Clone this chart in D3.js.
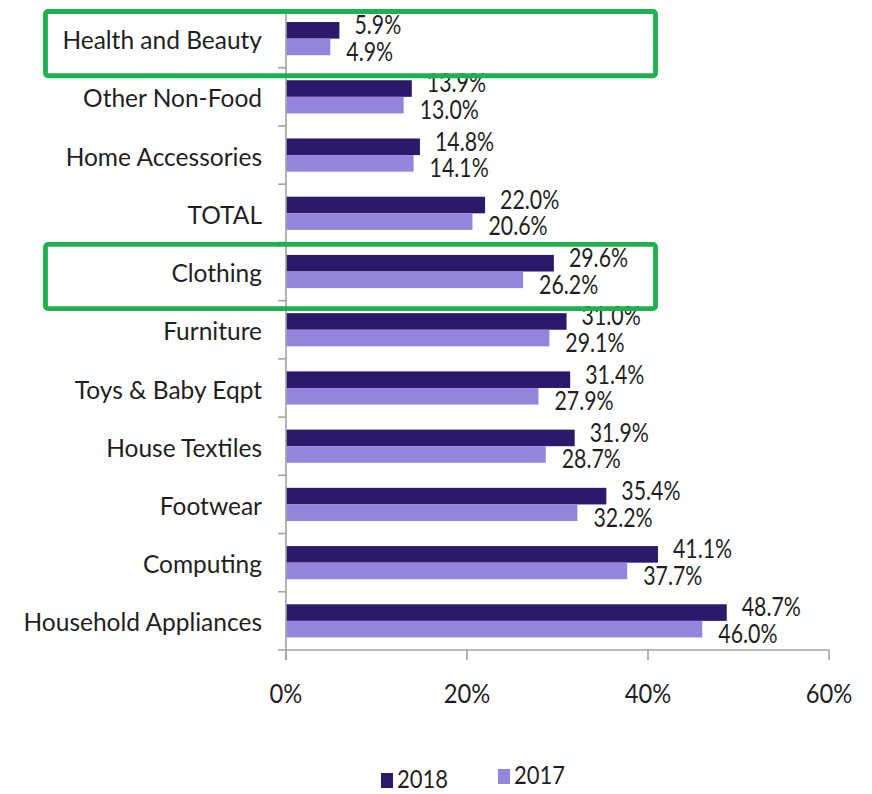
<!DOCTYPE html>
<html>
<head>
<meta charset="utf-8">
<script src="https://cdn.jsdelivr.net/npm/d3@7"></script>
<style>
  html, body { margin: 0; padding: 0; background: #fff; }
  svg { display: block; }
  text { font-family: Lato, "Open Sans", sans-serif; fill: #1f1f1f; }
</style>
</head>
<body>
<svg id="chart" width="872" height="794"></svg>
<script>
// Categories, top to bottom
const categories = [
  "Health and Beauty", "Other Non-Food", "Home Accessories", "TOTAL", "Clothing",
  "Furniture", "Toys & Baby Eqpt", "House Textiles", "Footwear", "Computing",
  "Household Appliances"
];
const values2018 = [5.9, 13.9, 14.8, 22.0, 29.6, 31.0, 31.4, 31.9, 35.4, 41.1, 48.7];
const values2017 = [4.9, 13.0, 14.1, 20.6, 26.2, 29.1, 27.9, 28.7, 32.2, 37.7, 46.0];
const seriesNames = ["2018", "2017"];
const xTicks = [0, 20, 40, 60];
const highlighted = ["Health and Beauty", "Clothing"];

const colors = { "2018": "#2b1a6b", "2017": "#9584dc" };
const axisColor = "#a3a3a3";
const green = "#1fb04e";

const svg = d3.select("#chart");

const x = d3.scaleLinear().domain([0, 60]).range([286, 829]);
const y = d3.scaleBand().domain(categories).range([9.5, 650]).padding(0);
const barH = y.bandwidth() * 0.285;

// Places a text label, optionally squeezed horizontally
function label(g, str, px, py, size, anchor, sx) {
  return g.append("text")
    .attr("transform", `translate(${px},${py}) scale(${sx || 1},1)`)
    .attr("text-anchor", anchor || "start")
    .attr("dominant-baseline", "central")
    .style("font-size", size + "px")
    .text(str);
}

// Bars
const rows = categories.map((c, i) => ({ c, v18: values2018[i], v17: values2017[i] }));
const mid = c => y(c) + y.bandwidth() / 2;

svg.append("g").selectAll("rect.b18").data(rows).join("rect")
  .attr("x", x(0)).attr("y", d => mid(d.c) - barH)
  .attr("width", d => x(d.v18) - x(0)).attr("height", barH)
  .attr("fill", colors["2018"]);

svg.append("g").selectAll("rect.b17").data(rows).join("rect")
  .attr("x", x(0)).attr("y", d => mid(d.c))
  .attr("width", d => x(d.v17) - x(0)).attr("height", barH)
  .attr("fill", colors["2017"]);

// Axes
const xAxisG = svg.append("g").attr("transform", `translate(0,${650})`);
xAxisG.append("line").attr("x1", 278).attr("x2", x(60)).attr("y1", 0).attr("y2", 0)
  .attr("stroke", axisColor).attr("stroke-width", 1.6);
xAxisG.selectAll("line.tick").data(xTicks).join("line")
  .attr("x1", d => x(d)).attr("x2", d => x(d)).attr("y1", 0).attr("y2", 10)
  .attr("stroke", axisColor).attr("stroke-width", 1.6);
xTicks.forEach(t => label(xAxisG, t + "%", x(t), 42, 27, "middle", 0.88));

const yAxisG = svg.append("g");
yAxisG.append("line").attr("x1", x(0)).attr("x2", x(0)).attr("y1", 9.5).attr("y2", 660)
  .attr("stroke", axisColor).attr("stroke-width", 1.6);
yAxisG.selectAll("line.tick").data(categories.slice(1)).join("line")
  .attr("x1", 278).attr("x2", x(0)).attr("y1", d => y(d)).attr("y2", d => y(d))
  .attr("stroke", axisColor).attr("stroke-width", 1.6);
categories.forEach(c => label(yAxisG, c, 262, mid(c) + 1, 25, "end", 0.98));

// Value labels: 2018 just above its bar end, 2017 just below
const valG = svg.append("g");
rows.forEach(d => {
  label(valG, d.v18.toFixed(1) + "%", x(d.v18) + 15, mid(d.c) - barH / 2 - 6, 26, "start", 0.82);
  label(valG, d.v17.toFixed(1) + "%", x(d.v17) + 16, mid(d.c) + barH / 2 + 4, 26, "start", 0.82);
});

// Highlight boxes
highlighted.forEach(c => {
  svg.append("rect")
    .attr("x", 45.5).attr("y", y(c) + 2).attr("width", 610).attr("height", y.bandwidth() + 6)
    .attr("rx", 2.5)
    .attr("fill", "none").attr("stroke", green).attr("stroke-width", 4.8);
});

// Legend
const legend = svg.append("g");
const legendItems = [
  { name: seriesNames[0], sqX: 381, sqY: 773, tx: 397, ty: 778 },
  { name: seriesNames[1], sqX: 498, sqY: 769, tx: 514, ty: 774 }
];
legendItems.forEach(it => {
  legend.append("rect").attr("x", it.sqX).attr("y", it.sqY).attr("width", 12).attr("height", 15)
    .attr("fill", colors[it.name]);
  label(legend, it.name, it.tx, it.ty, 25, "start", 0.88);
});
</script>
</body>
</html>
